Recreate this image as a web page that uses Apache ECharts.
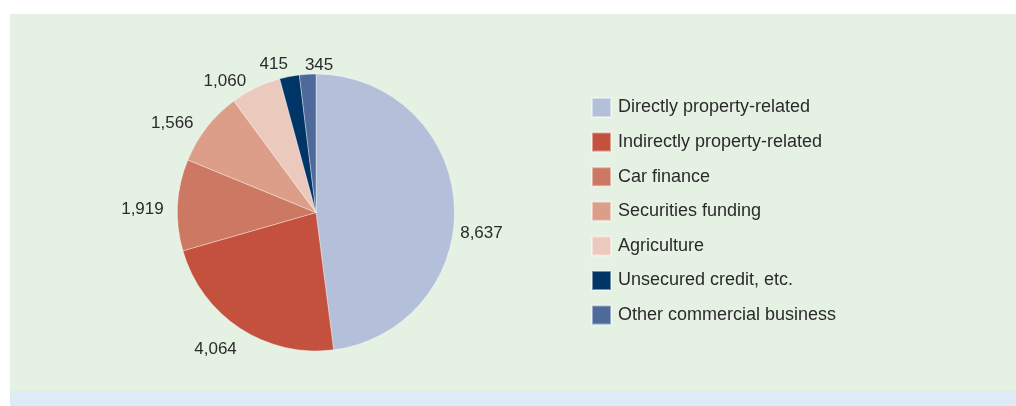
<!DOCTYPE html>
<html>
<head>
<meta charset="utf-8">
<script src="https://cdn.jsdelivr.net/npm/echarts@6/dist/echarts.min.js"></script>
<style>
  html, body { margin: 0; padding: 0; background: #ffffff; }
  #chart { width: 1016px; height: 406px; }
</style>
</head>
<body>
<div id="chart"></div>
<script>
// Loan book breakdown by segment
const categories = [
  'Directly property-related',
  'Indirectly property-related',
  'Car finance',
  'Securities funding',
  'Agriculture',
  'Unsecured credit, etc.',
  'Other commercial business'
];
const values = [8637, 4064, 1919, 1566, 1060, 415, 345];
const colors = ['#b4bfd9', '#c3513e', '#cd7862', '#dd9e89', '#ebc9bd', '#003568', '#4d6a9b'];

// Small hand adjustments of the value labels around the pie
const labelNudge = [
  { dx: -12, dy: 30 },
  { dx: 9, dy: 10 },
  { dx: 4, dy: 5 },
  { dx: 2, dy: 4 },
  { dx: 1, dy: 5 },
  { dx: 6, dy: 1 },
  { dx: 3, dy: 4, align: 'left' }
];

const FONT = '"Liberation Sans", Arial, Helvetica, sans-serif';

const chart = echarts.init(document.getElementById('chart'), null, { renderer: 'canvas' });

chart.setOption({
  backgroundColor: '#ffffff',
  animation: false,
  graphic: [
    { type: 'rect', z: -10, shape: { x: 10, y: 14, width: 1006, height: 377 }, style: { fill: '#e5f1e3' }, silent: true },
    { type: 'rect', z: -10, shape: { x: 10, y: 391, width: 1006, height: 15 }, style: { fill: '#ddebf7' }, silent: true }
  ],
  legend: {
    orient: 'vertical',
    left: 586,
    top: 92,
    itemWidth: 19,
    itemHeight: 19,
    itemGap: 13.6,
    icon: 'rect',
    selectedMode: false,
    data: categories,
    textStyle: {
      fontFamily: FONT,
      fontSize: 18,
      color: '#2b2b2b',
      padding: [0, 0, 0, 2]
    }
  },
  series: [{
    type: 'pie',
    center: [316, 212.5],
    radius: 138.5,
    startAngle: 90,
    clockwise: true,
    avoidLabelOverlap: false,
    itemStyle: { borderColor: 'rgba(255,255,255,0.45)', borderWidth: 0.8 },
    label: {
      show: true,
      position: 'outside',
      fontFamily: FONT,
      fontSize: 17,
      color: '#2b2b2b',
      formatter: p => p.value.toLocaleString('en-US')
    },
    labelLine: { show: false, length: 13, length2: 0 },
    labelLayout: p => labelNudge[p.dataIndex],
    emphasis: { disabled: true },
    data: categories.map((name, i) => ({
      name,
      value: values[i],
      itemStyle: { color: colors[i] }
    }))
  }]
});
</script>
</body>
</html>
